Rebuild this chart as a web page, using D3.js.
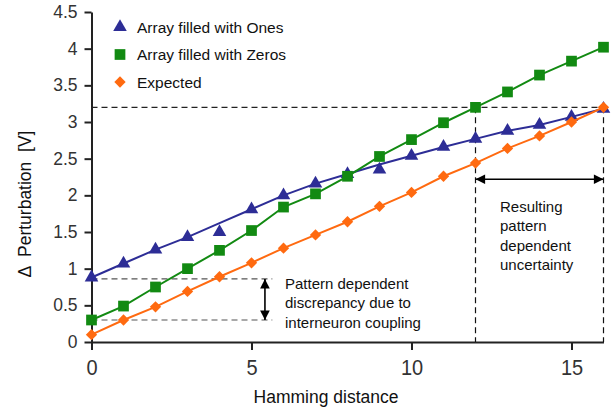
<!DOCTYPE html>
<html>
<head>
<meta charset="utf-8">
<script src="https://cdn.jsdelivr.net/npm/d3@7"></script>
<style>
  body { margin: 0; background: #fff; }
  svg text { font-family: "Liberation Sans", Arial, sans-serif; }
</style>
</head>
<body>
<div id="chart"></div>
<script>
// data
const hamming = d3.range(0, 17);
const ones = [0.88, 1.07, 1.26, 1.43, 1.50, 1.81, 2.00, 2.16, 2.29, 2.35, 2.54, 2.66, 2.77, 2.88, 2.96, 3.07, 3.18];
// the drawn line of the "ones" series does not pass through the two outliers (x = 4, x = 9)
const onesLine = [0.88, 1.07, 1.26, 1.43, 1.62, 1.81, 2.00, 2.16, 2.29, 2.42, 2.54, 2.66, 2.77, 2.88, 2.96, 3.07, 3.18];
const zeros = [0.30, 0.49, 0.75, 1.00, 1.25, 1.52, 1.84, 2.02, 2.26, 2.53, 2.76, 2.99, 3.20, 3.41, 3.64, 3.83, 4.02];
const expected = [0.10, 0.30, 0.48, 0.69, 0.89, 1.08, 1.28, 1.46, 1.64, 1.85, 2.04, 2.26, 2.44, 2.64, 2.81, 3.00, 3.20];
const xTicks = [0, 5, 10, 15];
const yTicks = [0, 0.5, 1, 1.5, 2, 2.5, 3, 3.5, 4, 4.5];

const series = [
  {name: 'Array filled with Ones', values: ones, line: onesLine, color: '#2d2d96', symbol: d3.symbolTriangle, size: 80, rot: 0},
  {name: 'Array filled with Zeros', values: zeros, line: zeros, color: '#128a12', symbol: d3.symbolSquare, size: 115, rot: 0},
  {name: 'Expected', values: expected, line: expected, color: '#ff6a10', symbol: d3.symbolSquare, size: 64, rot: 45}
];

const width = 611, height = 410;
const margin = {top: 12, right: 8, bottom: 68, left: 91.5};

const svg = d3.select('#chart')
  .append('svg')
  .attr('width', width)
  .attr('height', height);

const x = d3.scaleLinear().domain([0, 16]).range([margin.left, margin.left + 512]);
const y = d3.scaleLinear().domain([0, 4.5]).range([342, 12]);

svg.append('defs').append('marker')
  .attr('id', 'head')
  .attr('viewBox', '0 0 10 10')
  .attr('refX', 10).attr('refY', 5)
  .attr('markerWidth', 8).attr('markerHeight', 6)
  .attr('markerUnits', 'strokeWidth')
  .attr('orient', 'auto-start-reverse')
  .append('path')
  .attr('d', 'M0,0L10,5L0,10Z')
  .attr('fill', '#000');

// axes
const xAxis = svg.append('g')
  .attr('transform', 'translate(0,342)')
  .call(d3.axisBottom(x).tickValues(xTicks).tickSize(8).tickSizeOuter(0).tickPadding(8));
xAxis.select('.domain').attr('stroke', '#222').attr('stroke-width', 2);
xAxis.selectAll('.tick line').attr('stroke', '#222').attr('stroke-width', 2);
xAxis.selectAll('.tick text').attr('font-size', 20).attr('fill', '#333')
  .attr('transform', 'scale(1,1.08)');

const yAxis = svg.append('g')
  .attr('transform', `translate(${margin.left},0)`)
  .call(d3.axisLeft(y).tickValues(yTicks).tickFormat(d3.format('~g')).tickSize(7).tickSizeOuter(0).tickPadding(7));
yAxis.select('.domain').attr('stroke', '#222').attr('stroke-width', 2);
yAxis.selectAll('.tick line').attr('stroke', '#222').attr('stroke-width', 2);
yAxis.selectAll('.tick text').attr('font-size', 17.5).attr('fill', '#333');

// axis titles
svg.append('text')
  .attr('x', 326).attr('y', 403)
  .attr('text-anchor', 'middle')
  .attr('font-size', 17.5).attr('fill', '#111')
  .text('Hamming distance');

svg.append('text')
  .attr('transform', 'translate(31,204) rotate(-90)')
  .attr('text-anchor', 'middle')
  .attr('font-size', 17.5).attr('fill', '#111')
  .attr('xml:space', 'preserve')
  .text('\u0394  Perturbation  [V]');

// guide lines for the uncertainty band
const guides = svg.append('g').attr('fill', 'none');
guides.append('line')
  .attr('x1', x(0)).attr('x2', x(16))
  .attr('y1', y(3.2)).attr('y2', y(3.2))
  .attr('stroke', '#222').attr('stroke-dasharray', '6,4').attr('stroke-width', 1.2);
[12, 16].forEach(v => {
  guides.append('line')
    .attr('x1', x(v)).attr('x2', x(v))
    .attr('y1', y(3.2)).attr('y2', y(0))
    .attr('stroke', '#111').attr('stroke-dasharray', '6,4').attr('stroke-width', 1.2);
});
[0.86, 0.30].forEach(v => {
  guides.append('line')
    .attr('x1', x(0)).attr('x2', x(5.65))
    .attr('y1', y(v)).attr('y2', y(v))
    .attr('stroke', '#555').attr('stroke-dasharray', '6,4').attr('stroke-width', 1.2);
});

// arrows
svg.append('line')
  .attr('x1', x(12)).attr('x2', x(16))
  .attr('y1', y(2.22)).attr('y2', y(2.22))
  .attr('stroke', '#000').attr('stroke-width', 1.6)
  .attr('marker-start', 'url(#head)').attr('marker-end', 'url(#head)');
svg.append('line')
  .attr('x1', x(5.42)).attr('x2', x(5.42))
  .attr('y1', y(0.86)).attr('y2', y(0.30))
  .attr('stroke', '#000').attr('stroke-width', 1.6)
  .attr('marker-start', 'url(#head)').attr('marker-end', 'url(#head)');

// series lines and markers
const line = d3.line()
  .x((d, i) => x(hamming[i]))
  .y(d => y(d));

series.forEach(s => {
  svg.append('path')
    .datum(s.line)
    .attr('fill', 'none')
    .attr('stroke', s.color)
    .attr('stroke-width', 2)
    .attr('d', line);
  svg.append('g')
    .selectAll('path')
    .data(s.values)
    .enter()
    .append('path')
    .attr('transform', (d, i) => `translate(${x(hamming[i])},${y(d)}) rotate(${s.rot})`)
    .attr('d', d3.symbol().type(s.symbol).size(s.size))
    .attr('fill', s.color);
});

// legend
const legend = svg.append('g');
series.forEach((s, i) => {
  const ly = 27 + i * 27.5;
  legend.append('path')
    .attr('transform', `translate(120,${ly}) rotate(${s.rot})`)
    .attr('d', d3.symbol().type(s.symbol).size(s.size))
    .attr('fill', s.color);
  legend.append('text')
    .attr('x', 137).attr('y', ly + 5.5)
    .attr('font-size', 15.5).attr('fill', '#111')
    .text(s.name);
});

// annotations
const note1 = ['Pattern dependent', 'discrepancy due to', 'interneuron coupling'];
svg.append('g').selectAll('text')
  .data(note1)
  .enter()
  .append('text')
  .attr('x', 285).attr('y', (d, i) => 289 + i * 19.3)
  .attr('font-size', 15).attr('fill', '#111')
  .text(d => d);

const note2 = ['Resulting', 'pattern', 'dependent', 'uncertainty'];
svg.append('g').selectAll('text')
  .data(note2)
  .enter()
  .append('text')
  .attr('x', 500).attr('y', (d, i) => 212 + i * 19.3)
  .attr('font-size', 15).attr('fill', '#111')
  .text(d => d);
</script>
</body>
</html>
